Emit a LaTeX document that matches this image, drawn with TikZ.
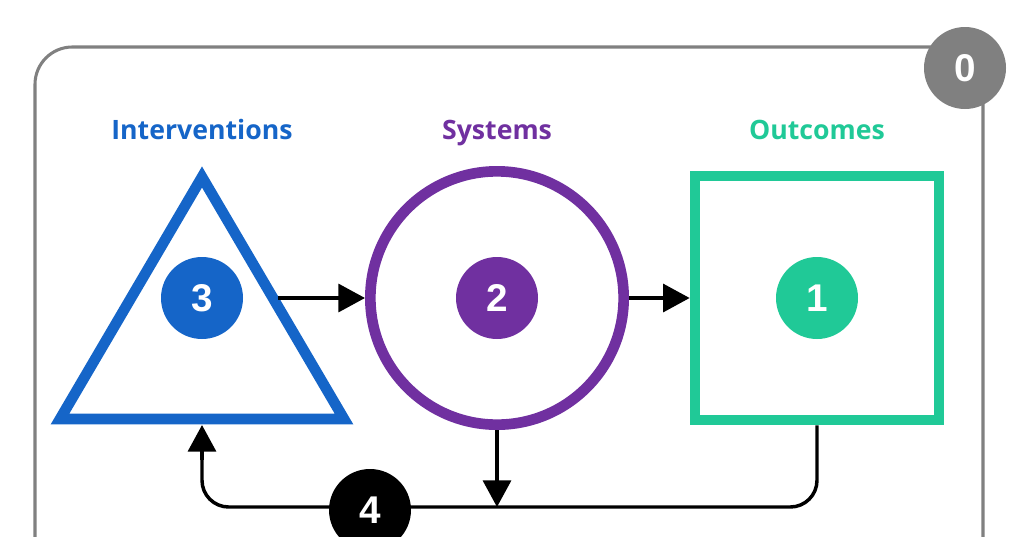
\documentclass[tikz,border=0pt]{standalone}
\usepackage{fontspec}
\setmainfont{Open Sans}
\newfontfamily\numfont{Liberation Sans}
\usetikzlibrary{arrows.meta}
\definecolor{cblue}{HTML}{1565C8}
\definecolor{cpurple}{HTML}{7030A0}
\definecolor{cgreen}{HTML}{20C997}
\definecolor{cgray}{HTML}{808080}
\begin{document}
\begin{tikzpicture}[x=0.75pt,y=-0.75pt,
  title/.style={anchor=base,font=\fontsize{20}{22}\selectfont\bfseries},
  num/.style={circle,minimum size=61.5pt,inner sep=0pt,text=white,font=\numfont\fontsize{29}{30}\selectfont\bfseries},
  arr/.style={line width=2.6pt,-{Triangle[length=20pt,width=21pt]}},
  line/.style={line width=2.6pt}]
\useasboundingbox (0,0) rectangle (1024,536);
\draw[cgray,line width=2.3pt,rounded corners=28pt] (35,600) -- (35,47) -- (983,47) -- (983,600);
\node[num,fill=cgray] (n0) at (965,68) {0};
\node[title,text=cblue] (t1) at (202,139) {Interventions};
\node[title,text=cpurple] (t2) at (497,139) {Systems};
\node[title,text=cgreen] (t3) at (817,139) {Outcomes};
\draw[cblue,line width=8pt,line join=miter] (202,177) -- (344,419) -- (60,419) -- cycle;
\node[circle,draw=cpurple,line width=8pt,minimum size=190pt] (sys) at (497,298) {};
\node[draw=cgreen,line width=8pt,minimum size=183pt] (out) at (817,298) {};
\node[num,fill=cblue] (n3) at (202,298) {3};
\node[num,fill=cpurple] (n2) at (497,298) {2};
\node[num,fill=cgreen] (n1) at (817,298) {1};
\coordinate (a1s) at (278,298);
\draw[arr] (a1s) -- (sys.west);
\draw[arr] (sys.east) -- (out.west);
\coordinate (bl) at (202,507);
\coordinate (br) at (817,507);
\coordinate (tb) at (202,425);
\coordinate (mid) at (497,507);
\draw[line,rounded corners=20pt] (out.south) -- (br) -- (bl) -- (202,450);
\draw[arr] (202,460) -- (tb);
\draw[arr] (sys.south) -- (mid);
\node[num,fill=black] (n4) at (370,510) {4};
\end{tikzpicture}
\end{document}
